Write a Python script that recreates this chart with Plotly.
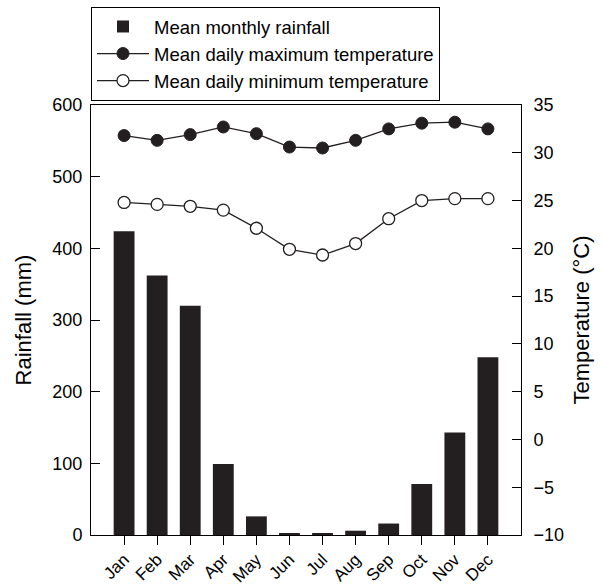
import plotly.graph_objects as go

months = ["Jan", "Feb", "Mar", "Apr", "May", "Jun", "Jul", "Aug", "Sep", "Oct", "Nov", "Dec"]
rainfall = [424, 362, 320, 99, 26, 2, 1.5, 6, 16, 71, 143, 248]
tmax = [31.8, 31.3, 31.9, 32.7, 32.0, 30.6, 30.5, 31.3, 32.5, 33.1, 33.2, 32.5]
tmin = [24.8, 24.6, 24.4, 24.0, 22.1, 19.9, 19.3, 20.5, 23.1, 25.0, 25.2, 25.2]

FONT = "Liberation Sans, Arial, sans-serif"
INK = "#231f20"

fig = go.Figure()
fig.add_trace(go.Bar(x=months, y=rainfall, name="Mean monthly rainfall",
                     marker=dict(color=INK, line=dict(width=0)), yaxis="y"))
fig.add_trace(go.Scatter(x=months, y=tmax, name="Mean daily maximum temperature",
                         mode="lines+markers", yaxis="y2",
                         line=dict(color=INK, width=1.3),
                         marker=dict(symbol="circle", size=12, color=INK,
                                     line=dict(color=INK, width=1))))
fig.add_trace(go.Scatter(x=months, y=tmin, name="Mean daily minimum temperature",
                         mode="lines+markers", yaxis="y2",
                         line=dict(color=INK, width=1.3),
                         marker=dict(symbol="circle", size=12, color="white",
                                     line=dict(color=INK, width=1.3))))

fig.update_layout(
    width=605, height=585,
    margin=dict(l=91, r=84, t=105, b=50, pad=0, autoexpand=False),
    paper_bgcolor="white", plot_bgcolor="white",
    font=dict(family=FONT, size=18, color="black"),
    bargap=0.37,
    showlegend=True,
    legend=dict(x=0, xanchor="left", y=1.228, yanchor="top",
                bordercolor="black", borderwidth=1, bgcolor="white",
                font=dict(size=18.5, family=FONT), itemwidth=52,
                traceorder="normal", tracegroupgap=0),
    xaxis=dict(type="category", range=[-1, 12], showline=True, linecolor="black",
               linewidth=1, mirror=True, ticks="outside", ticklen=9,
               tickcolor="black", tickangle=-45, showgrid=False, zeroline=False,
               automargin=False, ticklabelstandoff=-2, tickfont=dict(size=17)),
    yaxis=dict(range=[0, 600], dtick=100, showline=True, linecolor="black",
               linewidth=1, mirror=True, ticks="inside", ticklen=9,
               tickcolor="black", showgrid=False, zeroline=False, automargin=False,
               ticklabelstandoff=4, tickfont=dict(size=18),
               title=dict(text="Rainfall (mm)", font=dict(size=22), standoff=14)),
    yaxis2=dict(range=[-10, 35], dtick=5, overlaying="y", side="right",
                showline=True, linecolor="black", linewidth=1,
                ticks="inside", ticklen=9, tickcolor="black", automargin=False,
                showgrid=False, zeroline=False,
                ticklabelstandoff=8, tickfont=dict(size=18),
                title=dict(text="Temperature (°C)", font=dict(size=22), standoff=10)),
)

fig.write_html("out.html")
